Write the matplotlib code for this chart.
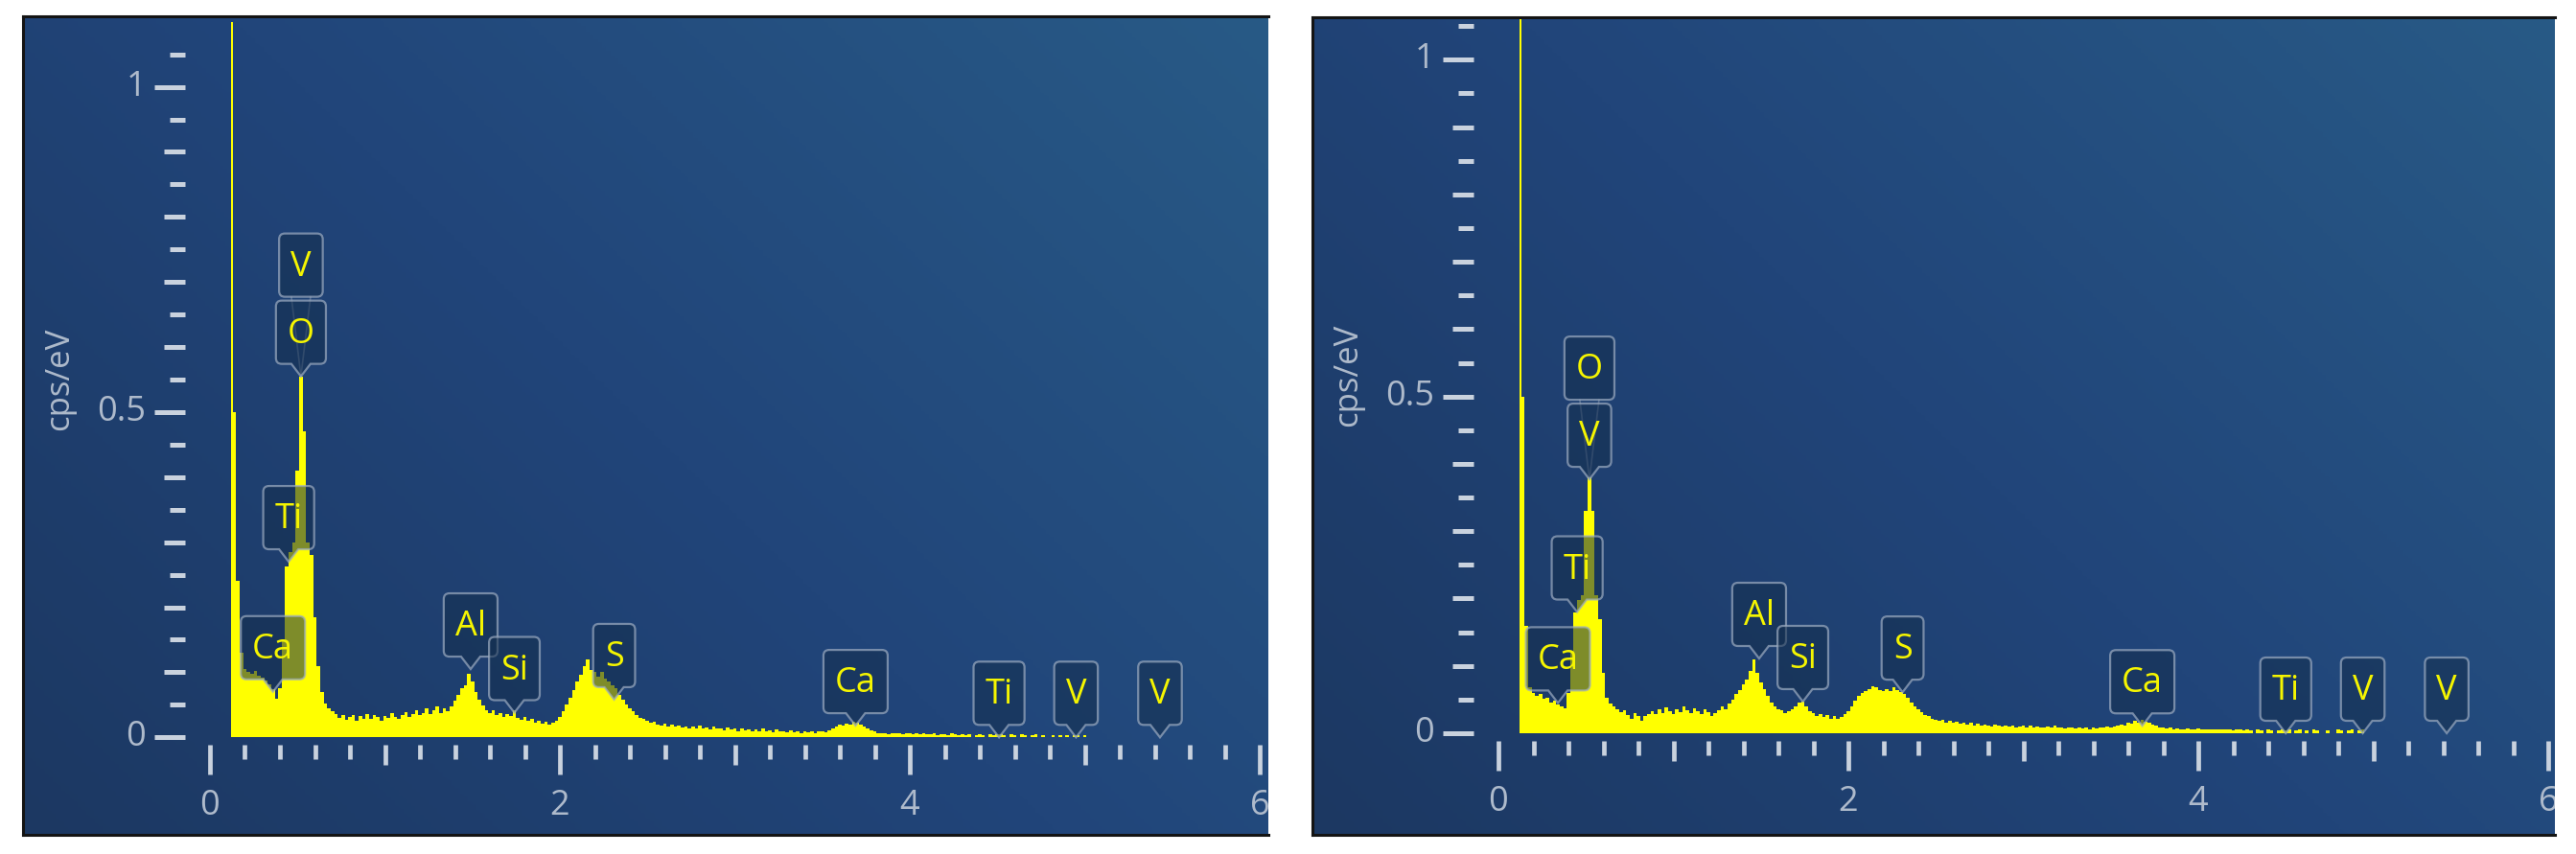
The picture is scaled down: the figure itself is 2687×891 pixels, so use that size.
import numpy as np
import matplotlib.pyplot as plt
from matplotlib.path import Path
from matplotlib.patches import PathPatch
from matplotlib.lines import Line2D
from matplotlib.transforms import IdentityTransform
from matplotlib.colors import LinearSegmentedColormap

plt.rcParams['font.family'] = ['Open Sans', 'DejaVu Sans']

W, H = 2687, 891

# channel energies in keV (20 eV channels starting at 0.12 keV)
energy = 0.12 + 0.02 * np.arange(250)

# spectrum 1 (left), cps/eV, one row = 0.2 keV
counts_a = np.array([
    1.50, 0.50, 0.24, 0.13, 0.105, 0.100, 0.098, 0.102, 0.095, 0.092,
    0.088, 0.082, 0.074, 0.060, 0.075, 0.150, 0.262, 0.285, 0.300, 0.410,
    0.555, 0.470, 0.300, 0.280, 0.185, 0.110, 0.070, 0.052, 0.045, 0.040,
    0.036, 0.030, 0.034, 0.027, 0.032, 0.035, 0.026, 0.033, 0.029, 0.036,
    0.029, 0.034, 0.031, 0.026, 0.033, 0.030, 0.037, 0.032, 0.028, 0.035,
    0.039, 0.031, 0.036, 0.041, 0.034, 0.038, 0.044, 0.036, 0.041, 0.047,
    0.038, 0.044, 0.040, 0.048, 0.056, 0.066, 0.076, 0.080, 0.098, 0.086,
    0.070, 0.058, 0.049, 0.042, 0.038, 0.041, 0.034, 0.037, 0.032, 0.036,
    0.033, 0.041, 0.030, 0.027, 0.031, 0.025, 0.028, 0.022, 0.026, 0.021,
    0.024, 0.020, 0.023, 0.026, 0.031, 0.040, 0.050, 0.061, 0.072, 0.086,
    0.096, 0.110, 0.120, 0.104, 0.100, 0.094, 0.101, 0.090, 0.086, 0.080,
    0.075, 0.066, 0.058, 0.050, 0.045, 0.040, 0.034, 0.030, 0.028, 0.025,
    0.022, 0.024, 0.020, 0.018, 0.021, 0.017, 0.019, 0.016, 0.018, 0.015,
    0.017, 0.014, 0.016, 0.013, 0.018, 0.014, 0.015, 0.012, 0.016, 0.013,
    0.014, 0.011, 0.015, 0.012, 0.013, 0.010, 0.014, 0.011, 0.012, 0.009,
    0.012, 0.010, 0.013, 0.009, 0.011, 0.008, 0.012, 0.009, 0.010, 0.008,
    0.011, 0.008, 0.009, 0.007, 0.010, 0.008, 0.009, 0.007, 0.010, 0.009,
    0.008, 0.011, 0.014, 0.016, 0.019, 0.018, 0.021, 0.020, 0.024, 0.022,
    0.019, 0.017, 0.014, 0.011, 0.009, 0.007, 0.006, 0.007, 0.005, 0.006,
    0.006, 0.007, 0.005, 0.006, 0.007, 0.005, 0.006, 0.005, 0.006, 0.005,
    0.005, 0.006, 0.004, 0.005, 0.005, 0.004, 0.006, 0.005, 0.004, 0.005,
    0.004, 0.005, 0.000, 0.004, 0.005, 0.004, 0.000, 0.005, 0.004, 0.005,
    0.005, 0.004, 0.000, 0.005, 0.004, 0.000, 0.005, 0.004, 0.000, 0.004,
    0.005, 0.000, 0.004, 0.000, 0.000, 0.004, 0.000, 0.004, 0.000, 0.004,
    0.000, 0.004, 0.004, 0.000, 0.004, 0.000, 0.000, 0.000, 0.000, 0.000,
])

# spectrum 2 (right)
counts_b = np.array([
    1.50, 0.50, 0.16, 0.068, 0.060, 0.056, 0.058, 0.051, 0.053, 0.046,
    0.048, 0.043, 0.040, 0.037, 0.060, 0.120, 0.180, 0.198, 0.205, 0.330,
    0.380, 0.330, 0.205, 0.170, 0.090, 0.052, 0.044, 0.040, 0.036, 0.031,
    0.034, 0.027, 0.022, 0.030, 0.025, 0.019, 0.026, 0.029, 0.033, 0.028,
    0.035, 0.030, 0.038, 0.033, 0.029, 0.036, 0.032, 0.040, 0.034, 0.030,
    0.037, 0.033, 0.028, 0.035, 0.031, 0.026, 0.030, 0.034, 0.040, 0.036,
    0.044, 0.050, 0.058, 0.064, 0.072, 0.080, 0.092, 0.110, 0.090, 0.075,
    0.066, 0.055, 0.046, 0.040, 0.036, 0.034, 0.030, 0.033, 0.036, 0.040,
    0.045, 0.047, 0.040, 0.033, 0.030, 0.026, 0.029, 0.024, 0.027, 0.022,
    0.025, 0.021, 0.024, 0.028, 0.033, 0.040, 0.048, 0.055, 0.060, 0.063,
    0.066, 0.070, 0.068, 0.064, 0.062, 0.066, 0.063, 0.068, 0.064, 0.061,
    0.058, 0.052, 0.045, 0.040, 0.036, 0.031, 0.027, 0.025, 0.022, 0.020,
    0.018, 0.020, 0.016, 0.018, 0.015, 0.017, 0.014, 0.016, 0.013, 0.015,
    0.012, 0.014, 0.011, 0.013, 0.012, 0.010, 0.013, 0.011, 0.010, 0.012,
    0.010, 0.011, 0.009, 0.010, 0.012, 0.009, 0.011, 0.008, 0.010, 0.009,
    0.008, 0.010, 0.009, 0.011, 0.008, 0.009, 0.007, 0.009, 0.008, 0.007,
    0.008, 0.007, 0.009, 0.006, 0.008, 0.007, 0.009, 0.008, 0.010, 0.009,
    0.010, 0.011, 0.013, 0.012, 0.015, 0.014, 0.018, 0.016, 0.020, 0.017,
    0.015, 0.013, 0.011, 0.009, 0.008, 0.007, 0.008, 0.006, 0.007, 0.006,
    0.006, 0.007, 0.005, 0.006, 0.007, 0.005, 0.006, 0.005, 0.006, 0.005,
    0.006, 0.005, 0.006, 0.005, 0.004, 0.006, 0.005, 0.004, 0.005, 0.004,
    0.000, 0.005, 0.004, 0.000, 0.005, 0.004, 0.000, 0.004, 0.005, 0.004,
    0.005, 0.000, 0.004, 0.005, 0.000, 0.004, 0.000, 0.005, 0.004, 0.000,
    0.000, 0.004, 0.000, 0.000, 0.005, 0.004, 0.000, 0.004, 0.005, 0.000,
    0.004, 0.005, 0.000, 0.000, 0.000, 0.000, 0.000, 0.000, 0.000, 0.000,
])

# peak labels: element, energy (keV), height the marker points at (cps/eV)
names_a = ["Ca", "Ti", "O", "V", "Al", "Si", "S", "Ca", "Ti", "V", "V"]
peak_kev_a = [0.36, 0.45, 0.52, 0.52, 1.49, 1.74, 2.31, 3.69, 4.51, 4.95, 5.43]
peak_cps_a = [0.07, 0.27, 0.555, 0.555, 0.105, 0.038, 0.058, 0.018, 0.0, 0.0, 0.0]

names_b = ["Ca", "Ti", "V", "O", "Al", "Si", "S", "Ca", "Ti", "V", "V"]
peak_kev_b = [0.34, 0.45, 0.52, 0.52, 1.49, 1.74, 2.31, 3.68, 4.50, 4.94, 5.42]
peak_cps_b = [0.045, 0.18, 0.377, 0.377, 0.111, 0.047, 0.061, 0.011, 0.0, 0.0, 0.0]

y_tick_labels = {0.0: "0", 0.5: "0.5", 1.0: "1"}
x_tick_labels = {0: "0", 2: "2", 4: "4", 6: "6"}

# layout in image pixels (from top-left)
panels = [
    dict(frame=(24, 17, 1323, 871), origin=(219, 769.3), kev_px=182.5, cps_px=678.7, ytop=1.1,
         counts=counts_a, names=names_a, kev=peak_kev_a, cps=peak_cps_a),
    dict(frame=(1369, 18, 2665, 871), origin=(1563, 765.0), kev_px=182.5, cps_px=702.7, ytop=1.06,
         counts=counts_b, names=names_b, kev=peak_kev_b, cps=peak_cps_b),
]

TICK_C = '#c9d2de'
TEXT_C = '#aebacb'
YELLOW = '#ffff00'

fig = plt.figure(figsize=(W / 100, H / 100), dpi=100)
fig.patch.set_facecolor('white')
renderer = fig.canvas.get_renderer()
ident = IdentityTransform()

grad_cmap = LinearSegmentedColormap.from_list('bg', ['#1c3862', '#21457a', '#285a86'])
gx, gy = np.meshgrid(np.linspace(0, 1, 300), np.linspace(0, 1, 300))
grad = 0.6 * gx + 0.4 * gy


def label_path(cx, tip, bottom, w, h, r=6, pw=10):
    l, rt, t = cx - w / 2, cx + w / 2, bottom + h
    verts = [(cx - pw, bottom), (cx, tip), (cx + pw, bottom),
             (rt - r, bottom), (rt, bottom), (rt, bottom + r),
             (rt, t - r), (rt, t), (rt - r, t),
             (l + r, t), (l, t), (l, t - r),
             (l, bottom + r), (l, bottom), (l + r, bottom),
             (cx - pw, bottom)]
    codes = [Path.MOVETO, Path.LINETO, Path.LINETO, Path.LINETO,
             Path.CURVE3, Path.CURVE3, Path.LINETO, Path.CURVE3, Path.CURVE3,
             Path.LINETO, Path.CURVE3, Path.CURVE3, Path.LINETO,
             Path.CURVE3, Path.CURVE3, Path.CLOSEPOLY]
    return Path(verts, codes)


for p in panels:
    l, t, r, b = p['frame']
    bg = fig.add_axes([l / W, 1 - b / H, (r - l) / W, (b - t) / H])
    bg.imshow(grad, cmap=grad_cmap, origin='lower', extent=(0, 1, 0, 1), aspect='auto')
    bg.set_xticks([])
    bg.set_yticks([])
    for side in ['left', 'top', 'bottom']:
        bg.spines[side].set_color('#141414')
        bg.spines[side].set_linewidth(2.2)
    bg.spines['right'].set_visible(False)

    ox, oy = p['origin']
    ax = fig.add_axes([ox / W, 1 - oy / H, 6 * p['kev_px'] / W, p['ytop'] * p['cps_px'] / H])
    ax.set_xlim(0, 6)
    ax.set_ylim(0, p['ytop'])
    ax.set_axis_off()
    ax.fill_between(energy, p['counts'], step='mid', color=YELLOW, lw=0)

    X0, Y0 = ax.transData.transform((0, 0))

    # x ticks every 0.2 keV
    for k in range(31):
        e = k * 0.2
        X, _ = ax.transData.transform((e, 0))
        if k % 10 == 0:
            ln = 31
        elif k % 5 == 0:
            ln = 21
        else:
            ln = 15
        fig.add_artist(Line2D([X, X], [Y0 - 8, Y0 - 8 - ln], transform=ident,
                              color=TICK_C, lw=3.4, solid_capstyle='butt'))
    for v, s in x_tick_labels.items():
        X, _ = ax.transData.transform((v, 0))
        tx = fig.text(X, Y0 - 72, s, transform=ident, ha='center', va='center',
                      fontsize=26, color=TEXT_C)
        tx.set_clip_box(bg.bbox)
        tx.set_clip_on(True)

    # y ticks every 0.05 cps/eV
    for k in range(22):
        v = k * 0.05
        _, Y = ax.transData.transform((0, v))
        if k % 10 == 0:
            ln = 32
        elif k % 2 == 0:
            ln = 22
        else:
            ln = 16
        fig.add_artist(Line2D([X0 - 26 - ln, X0 - 26], [Y, Y], transform=ident,
                              color=TICK_C, lw=3.6, solid_capstyle='butt'))
    for v, s in y_tick_labels.items():
        _, Y = ax.transData.transform((0, v))
        fig.text(X0 - 67, Y, s, transform=ident, ha='right', va='center',
                 fontsize=26, color=TEXT_C)
    fig.text(X0 - 157, Y0 + 374, 'cps/eV', transform=ident, ha='center', va='center',
             rotation=90, fontsize=25, color=TEXT_C)

    # peak markers
    prev = None
    bottom = 0
    for name, e, c in zip(p['names'], p['kev'], p['cps']):
        X, Y = ax.transData.transform((e, c))
        stacked = prev == (e, c)
        bottom = bottom + 66 + 4 if stacked else Y + 13
        prev = (e, c)
        txt = fig.text(X, bottom + 31, name, transform=ident, ha='center', va='center',
                       fontsize=26, color='#f5f500', zorder=3)
        w = txt.get_window_extent(renderer).width + 24
        if stacked:
            for sgn in (-1, 1):
                fig.add_artist(Line2D([X + sgn * 10, X], [bottom, Y], transform=ident,
                                      color='#9aa8bb', lw=1.2, alpha=0.45, zorder=0.9))
            path = label_path(X, bottom, bottom, w, 66)
        else:
            path = label_path(X, Y, bottom, w, 66)
        fig.add_artist(PathPatch(path, transform=ident, facecolor=(0.08, 0.18, 0.30, 0.55),
                                 edgecolor=(0.62, 0.68, 0.76, 0.7), lw=1.6, zorder=1))

fig.savefig('out.png', dpi=100, facecolor='white')
